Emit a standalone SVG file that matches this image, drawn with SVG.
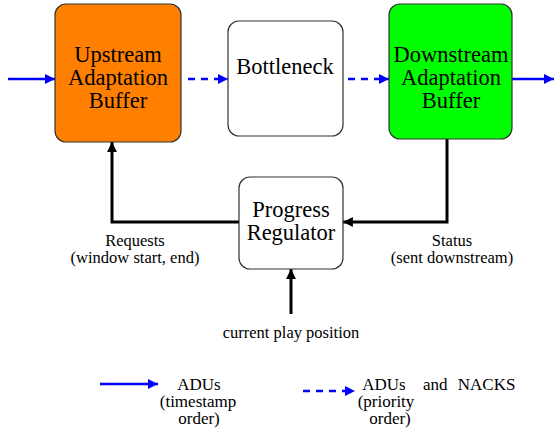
<svg xmlns="http://www.w3.org/2000/svg" width="554" height="431" viewBox="0 0 554 431">
<defs>
<style>
.box{stroke:#333;stroke-width:1.2}
text{fill:#000;text-anchor:middle;font-family:"Liberation Serif","Times New Roman",serif !important}
.big{font-size:22.5px}
.sm{font-size:16.5px}
.lg{font-size:17px}
.blue{stroke:#0000ff;stroke-width:2.5;fill:none}
.dash{stroke-dasharray:7,6}
.blk{stroke:#000;stroke-width:3;fill:none}
</style>
<marker id="ab" viewBox="0 0 10 10" refX="10" refY="5" markerWidth="4" markerHeight="4" orient="auto" markerUnits="strokeWidth"><path d="M0,0 L10,5 L0,10 z" fill="#0000ff"/></marker>
<marker id="ak" viewBox="0 0 10 10" refX="10" refY="5" markerWidth="3.3" markerHeight="3.3" orient="auto" markerUnits="strokeWidth"><path d="M0,0 L10,5 L0,10 z" fill="#000"/></marker>
</defs>
<rect width="554" height="431" fill="#fff"/>
<g id="connectors">
<line class="blue" x1="8" y1="79" x2="55" y2="79" marker-end="url(#ab)"/>
<line class="blue dash" x1="188" y1="79" x2="228" y2="79" marker-end="url(#ab)"/>
<line class="blue dash" x1="348" y1="79" x2="389" y2="79" marker-end="url(#ab)"/>
<line class="blue" x1="512" y1="79" x2="554" y2="79" marker-end="url(#ab)"/>
<polyline class="blk" points="239,222 112,222 112,142" marker-end="url(#ak)"/>
<polyline class="blk" points="447,139 447,222 343,222" marker-end="url(#ak)"/>
<line class="blk" x1="291" y1="314" x2="291" y2="269" marker-end="url(#ak)"/>
<text class="sm" x="135" y="246">Requests</text>
<text class="sm" x="135" y="263">(window start, end)</text>
<text class="sm" x="452" y="246">Status</text>
<text class="sm" x="452" y="263">(sent downstream)</text>
<text class="sm" x="291" y="338">current play position</text>
</g>
<g id="upstream">
<rect class="box" x="55" y="4" width="126" height="138" rx="11" fill="#ff8000"/>
<text class="big" x="118" y="62">Upstream</text>
<text class="big" x="118" y="85">Adaptation</text>
<text class="big" x="118" y="108">Buffer</text>
</g>
<g id="bottleneck">
<rect class="box" x="228" y="21" width="115" height="115" rx="11" fill="#fff"/>
<text class="big" x="285" y="74">Bottleneck</text>
</g>
<g id="downstream">
<rect class="box" x="389" y="4" width="123" height="135" rx="11" fill="#00ff00"/>
<text class="big" x="451" y="62">Downstream</text>
<text class="big" x="451" y="85">Adaptation</text>
<text class="big" x="451" y="108">Buffer</text>
</g>
<g id="regulator">
<rect class="box" x="239" y="177" width="104" height="92" rx="11" fill="#fff"/>
<text class="big" x="291" y="217">Progress</text>
<text class="big" x="291" y="240">Regulator</text>
</g>
<g id="legend">
<line class="blue" x1="100" y1="384" x2="158" y2="384" marker-end="url(#ab)"/>
<text class="lg" x="199" y="390">ADUs</text>
<text class="lg" x="198" y="407">(timestamp</text>
<text class="lg" x="199" y="424">order)</text>
<line class="blue dash" x1="303" y1="391" x2="355" y2="391" marker-end="url(#ab)"/>
<text class="lg" x="384" y="390">ADUs</text>
<text class="lg" x="423" y="390" style="text-anchor:start;word-spacing:6px">and NACKS</text>
<text class="lg" x="386" y="407">(priority</text>
<text class="lg" x="390" y="424">order)</text>
</g>
</svg>
